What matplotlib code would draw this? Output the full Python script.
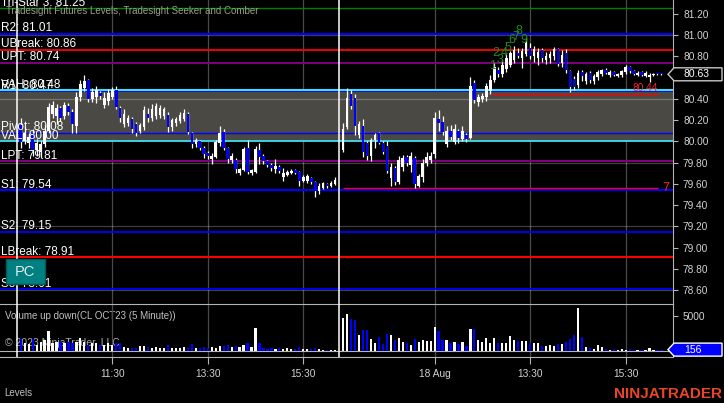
# NinjaTrader style CL 5 minute chart with Tradesight levels and volume panel
import numpy as np
import matplotlib.pyplot as plt
from matplotlib.patches import Polygon, Rectangle

plt.rcParams['font.family'] = ['Liberation Sans', 'DejaVu Sans']

W, H = 724, 403  # output size in pixels

# ---- data -------------------------------------------------------------
# bar slots: first session 1..80, session break at 81, second session 82..162
bar_slot = list(range(1, 81)) + list(range(82, 163))

opens = [
    80.15, 80.00, 79.98, 80.08, 79.92, 79.90, 79.97, 80.10, 80.26, 80.24,
    80.31, 80.24, 80.33, 80.28, 80.14, 80.42, 80.50, 80.58, 80.40, 80.42,
    80.45, 80.34, 80.38, 80.42, 80.48, 80.31, 80.16, 80.17, 80.21, 80.16,
    80.10, 80.13, 80.26, 80.22, 80.24, 80.25, 80.24, 80.25, 80.13, 80.17,
    80.19, 80.21, 80.26, 80.08, 79.97, 80.00, 79.94, 79.89, 79.83, 79.85,
    79.98, 80.09, 79.94, 79.82, 79.82, 79.70, 79.73, 79.94, 79.70, 79.71,
    79.92, 79.86, 79.81, 79.78, 79.74, 79.76, 79.66, 79.68, 79.70, 79.73,
    79.71, 79.63, 79.63, 79.65, 79.62, 79.53, 79.56, 79.60, 79.58, 79.60,
    79.92, 80.13, 80.44, 80.41, 80.06, 80.14, 79.98, 79.86, 80.01, 80.08,
    79.98, 79.96, 79.65, 79.75, 79.62, 79.76, 79.85, 79.78, 79.84, 79.58,
    79.66, 79.80, 79.82, 79.88, 80.21, 80.18, 79.97, 80.10, 79.99, 80.10,
    80.02, 80.06, 80.03, 80.55, 80.37, 80.40, 80.42, 80.47, 80.58, 80.67,
    80.63, 80.68, 80.72, 80.76, 80.83, 80.78, 80.82, 80.88, 80.80, 80.78,
    80.86, 80.76, 80.78, 80.80, 80.87, 80.74, 80.83, 80.66, 80.59, 80.53,
    80.65, 80.57, 80.64, 80.57, 80.60, 80.63, 80.67, 80.62, 80.65, 80.61,
    80.62, 80.65, 80.70, 80.66, 80.62, 80.65, 80.61, 80.60, 80.62, 80.64,
    80.64,
]
highs = [
    80.22, 80.14, 80.08, 80.12, 80.02, 80.00, 80.15, 80.36, 80.38, 80.35,
    80.33, 80.37, 80.36, 80.30, 80.46, 80.58, 80.62, 80.59, 80.50, 80.52,
    80.47, 80.46, 80.49, 80.51, 80.52, 80.33, 80.30, 80.25, 80.23, 80.18,
    80.17, 80.33, 80.31, 80.35, 80.36, 80.34, 80.32, 80.28, 80.22, 80.23,
    80.28, 80.30, 80.28, 80.09, 80.03, 80.01, 79.96, 79.91, 79.89, 80.01,
    80.14, 80.12, 79.95, 79.89, 79.84, 79.75, 79.95, 80.01, 79.74, 79.96,
    79.98, 79.88, 79.82, 79.80, 79.83, 79.78, 79.75, 79.73, 79.74, 79.74,
    79.72, 79.68, 79.69, 79.66, 79.63, 79.61, 79.62, 79.61, 79.63, 79.66,
    80.17, 80.50, 80.48, 80.44, 80.19, 80.21, 80.00, 80.03, 80.08, 80.09,
    80.00, 80.00, 79.80, 79.77, 79.86, 79.87, 79.87, 79.90, 79.86, 79.69,
    79.83, 79.90, 79.90, 80.28, 80.29, 80.24, 80.14, 80.15, 80.16, 80.12,
    80.14, 80.08, 80.60, 80.58, 80.44, 80.45, 80.55, 80.62, 80.74, 80.70,
    80.76, 80.82, 80.85, 80.90, 80.88, 80.88, 80.97, 80.92, 80.90, 80.88,
    80.88, 80.84, 80.85, 80.89, 80.88, 80.86, 80.87, 80.67, 80.61, 80.67,
    80.67, 80.65, 80.66, 80.63, 80.67, 80.68, 80.69, 80.67, 80.66, 80.64,
    80.67, 80.72, 80.71, 80.67, 80.66, 80.66, 80.66, 80.64, 80.64, 80.64,
    80.64,
]
lows = [
    79.94, 79.97, 79.94, 79.86, 79.86, 79.84, 79.95, 80.08, 80.22, 80.16,
    80.19, 80.21, 80.25, 80.08, 80.08, 80.38, 80.47, 80.37, 80.37, 80.36,
    80.40, 80.31, 80.34, 80.40, 80.30, 80.18, 80.13, 80.14, 80.08, 80.05,
    80.08, 80.11, 80.18, 80.19, 80.21, 80.22, 80.21, 80.09, 80.10, 80.14,
    80.17, 80.19, 80.07, 79.94, 79.95, 79.92, 79.84, 79.83, 79.79, 79.84,
    79.96, 79.92, 79.80, 79.80, 79.70, 79.68, 79.72, 79.69, 79.68, 79.70,
    79.79, 79.79, 79.76, 79.72, 79.70, 79.70, 79.63, 79.67, 79.69, 79.69,
    79.58, 79.62, 79.61, 79.60, 79.48, 79.50, 79.55, 79.56, 79.57, 79.59,
    79.90, 80.12, 80.30, 80.06, 80.03, 79.85, 79.82, 79.81, 79.94, 79.97,
    79.88, 79.70, 79.58, 79.59, 79.60, 79.72, 79.77, 79.71, 79.56, 79.57,
    79.62, 79.77, 79.80, 79.84, 80.10, 80.06, 79.95, 80.01, 79.97, 79.98,
    80.00, 79.99, 80.02, 80.36, 80.33, 80.37, 80.38, 80.44, 80.56, 80.60,
    80.60, 80.65, 80.70, 80.74, 80.78, 80.69, 80.80, 80.77, 80.75, 80.72,
    80.75, 80.73, 80.74, 80.76, 80.71, 80.70, 80.64, 80.46, 80.48, 80.50,
    80.57, 80.54, 80.55, 80.54, 80.58, 80.61, 80.63, 80.60, 80.61, 80.60,
    80.60, 80.63, 80.64, 80.62, 80.61, 80.61, 80.60, 80.56, 80.61, 80.62,
    80.62,
]
closes = [
    79.99, 80.08, 80.04, 79.92, 79.98, 79.97, 80.10, 80.32, 80.34, 80.31,
    80.22, 80.34, 80.28, 80.16, 80.42, 80.54, 80.57, 80.40, 80.46, 80.48,
    80.43, 80.41, 80.45, 80.48, 80.32, 80.22, 80.26, 80.22, 80.12, 80.08,
    80.15, 80.29, 80.22, 80.30, 80.33, 80.31, 80.30, 80.13, 80.20, 80.21,
    80.25, 80.27, 80.09, 79.97, 80.01, 79.94, 79.88, 79.86, 79.86, 79.99,
    80.08, 79.94, 79.83, 79.86, 79.74, 79.74, 79.93, 79.71, 79.73, 79.93,
    79.85, 79.81, 79.78, 79.75, 79.77, 79.72, 79.70, 79.71, 79.72, 79.70,
    79.63, 79.66, 79.67, 79.62, 79.53, 79.58, 79.61, 79.58, 79.61, 79.64,
    80.12, 80.41, 80.33, 80.14, 80.16, 79.90, 79.86, 80.01, 80.06, 79.98,
    79.90, 79.72, 79.76, 79.62, 79.82, 79.84, 79.80, 79.86, 79.60, 79.67,
    79.80, 79.85, 79.86, 80.22, 80.17, 80.09, 80.10, 80.04, 80.12, 80.03,
    80.10, 80.02, 80.52, 80.39, 80.42, 80.43, 80.52, 80.58, 80.70, 80.63,
    80.72, 80.78, 80.83, 80.86, 80.80, 80.85, 80.92, 80.80, 80.87, 80.84,
    80.78, 80.80, 80.82, 80.87, 80.73, 80.81, 80.67, 80.51, 80.51, 80.64,
    80.61, 80.63, 80.58, 80.61, 80.65, 80.67, 80.64, 80.65, 80.62, 80.63,
    80.66, 80.70, 80.66, 80.63, 80.64, 80.62, 80.64, 80.62, 80.63, 80.63,
    80.63,
]
volumes = [
    1620, 1050, 950, 1620, 810, 1290, 1520, 2810, 1050, 1290,
    1290, 1050, 1290, 1050, 1290, 1760, 1290, 810, 1050, 1050,
    760, 810, 1050, 810, 1050, 1140, 570, 430, 330, 330,
    670, 670, 480, 430, 480, 330, 430, 810, 330, 430,
    330, 570, 330, 950, 330, 330, 570, 330, 570, 330,
    670, 670, 810, 570, 670, 570, 810, 1050, 570, 3240,
    1050, 330, 190, 330, 190, 330, 190, 330, 190, 240,
    480, 190, 190, 190, 330, 190, 140, 140, 140, 140,
    4620, 5240, 4475, 4380, 2240, 2950, 2950, 1620, 1140, 1900,
    950, 2380, 2240, 1520, 1760, 1240, 1050, 860, 1620, 1240,
    1520, 1380, 1330, 3380, 2760, 1520, 1480, 1050, 1240, 1000,
    1240, 670, 3090, 3050, 1520, 1290, 1810, 1050, 1810, 1140,
    1140, 1140, 2090, 1520, 1430, 1380, 1330, 1140, 1140, 1140,
    670, 710, 810, 710, 1000, 1000, 1240, 1620, 2240, 6140,
    2000, 520, 330, 240, 860, 480, 190, 100, 190, 140,
    190, 100, 190, 140, 100, 140, 100, 380, 100, 100,
    156,
]

level_names = ['Tri-Star 3', 'R2', 'UBreak', 'UPT', 'R1', 'VAH', 'Pivot',
               'VAL', 'LPT', 'S1', 'S2', 'LBreak', 'S3']
level_values = [81.25, 81.01, 80.86, 80.74, 80.47, 80.48, 80.08,
                80.00, 79.81, 79.54, 79.15, 78.91, 78.61]
level_colors = ['#008000', '#0000ff', '#ff0000', '#800080', '#0000ff', '#40e0f0',
                '#0000ff', '#40e0f0', '#800080', '#0000ff', '#0000ff', '#ff0000', '#0000ff']
level_widths = [1.0, 1.5, 1.3, 1.4, 1.3, 1.5, 1.0, 1.3, 1.5, 1.5, 1.3, 1.5, 1.3]

value_area = (80.00, 80.48)
session_breaks = [0, 81]
grid_prices = [78.6, 79.2, 79.8, 80.4, 81.0]

tick_slots = [24, 48, 72, 105, 129, 153]
tick_labels = ['11:30', '13:30', '15:30', '18 Aug', '13:30', '15:30']

# Comber / Seeker markers
comber_level, comber_start, comber_label = 79.56, 82, '7'
seeker_level, seeker_start = 80.44, 119.3
ray_end = 161.1
seeker_counts = ['1', '2', '3', '4', '5', '6', '7', '8', '9']
seeker_slots = [119.6, 120.5, 121.4, 122.4, 123.4, 124.4, 125.4, 126.3, 127.5]
seeker_prices = [80.71, 80.83, 80.76, 80.83, 80.88, 80.95, 80.98, 81.04, 80.95]

# ---- figure -----------------------------------------------------------
fig = plt.figure(figsize=(W / 100, H / 100), dpi=100, facecolor='black')


def fx(x):
    return x / W


def fy(y):
    return 1 - y / H


PRICE_BOTTOM, VOL_BOTTOM, RIGHT = 304, 356.7, 673
ax = fig.add_axes([0, fy(PRICE_BOTTOM), fx(RIGHT), PRICE_BOTTOM / H])
axv = fig.add_axes([0, fy(VOL_BOTTOM), fx(RIGHT), (VOL_BOTTOM - PRICE_BOTTOM) / H])

GRAY = '#b4b4b4'
TXT = '#d2d2d2'
for a in (ax, axv):
    a.set_facecolor('black')
    a.set_xlim(-4.2, 164.9)
    a.set_xticks(tick_slots)
    a.grid(axis='x', color='#4a4a4a', lw=0.9, zorder=0)
    a.yaxis.tick_right()
    a.tick_params(axis='y', length=3.6, width=0.8, color=GRAY, labelcolor=TXT,
                  labelsize=7.3, pad=3.6)
    for side in ('left', 'top', 'bottom'):
        a.spines[side].set_visible(False)
    a.spines['right'].set_color(GRAY)
    for s in session_breaks:
        a.axvline(s, color='white', lw=1.1, zorder=7)

ax.set_ylim(78.469, 81.329)
ax.set_yticks(np.arange(78.6, 81.21, 0.2))
ax.set_yticklabels([f'{v:.2f}' for v in np.arange(78.6, 81.21, 0.2)])
ax.tick_params(axis='x', length=0, labelbottom=False)

axv.set_ylim(-857, 6671)
axv.set_yticks([5000])
axv.set_yticklabels(['5000'])
axv.set_xticklabels(tick_labels)
axv.tick_params(axis='x', length=4.8, width=0.8, color=GRAY, labelcolor=TXT,
                labelsize=7.3, pad=4)
axv.spines['top'].set_visible(True)
axv.spines['top'].set_color(GRAY)
axv.spines['bottom'].set_visible(True)
axv.spines['bottom'].set_color(GRAY)
axv.axhline(0, color=GRAY, lw=0.8, zorder=2)

# value area and grid
ax.axhspan(*value_area, color='#4a4944', lw=0, zorder=1)
for g in grid_prices:
    ax.axhline(g, color='white', alpha=0.25, lw=0.9, zorder=2)

# level lines and labels
for name, val, colr, lw in zip(level_names, level_values, level_colors, level_widths):
    ax.axhline(val, color=colr, lw=lw, zorder=3)
    ax.annotate(f'{name}: {val:.2f}', xy=(0, val), xycoords=('axes fraction', 'data'),
                xytext=(1, 2.5), textcoords='offset pixels', color='white',
                fontsize=8.5, va='baseline', ha='left', zorder=8)

# candles
x = np.array(bar_slot)
o, hi, lo, c = (np.array(v) for v in (opens, highs, lows, closes))
colors = np.where(c >= o, 'white', '#0000ff')
ax.vlines(x, lo, hi, color='white', lw=0.9, zorder=5)
ax.bar(x, np.maximum(np.abs(c - o), 0.008), bottom=np.minimum(o, c), width=0.65,
       color=colors, lw=0, zorder=6)

# comber / seeker rays
ax.hlines(comber_level, comber_start, ray_end, color='#ff0000', lw=1.0, zorder=4)
ax.text(ray_end + 1.2, comber_level, comber_label, color='#ff2020', fontsize=9,
        va='center', ha='left', zorder=8)
ax.hlines(seeker_level, seeker_start, ray_end, color='#ff0000', lw=1.0, zorder=4)
ax.annotate(f'{seeker_level:.2f}', xy=(ray_end, seeker_level), xytext=(0, 1.5),
            textcoords='offset pixels', color='#ff2020', fontsize=7.3, ha='right',
            va='bottom', zorder=8)
for lab, sx, sy in zip(seeker_counts, seeker_slots, seeker_prices):
    ax.text(sx, sy, lab, color='#1c8c1c', fontsize=9, ha='center', va='center', zorder=8)

# volume
axv.bar(x, volumes, width=0.55, color=colors, lw=0, zorder=3)
axv.text(5 / RIGHT, 0.772, 'Volume up down(CL OCT23 (5 Minute))', transform=axv.transAxes,
         color='#c0c0c0', fontsize=7, va='center', zorder=1)
axv.text(5 / RIGHT, 0.26, '\u00a9 2023 NinjaTrader, LLC', transform=axv.transAxes,
         color='#a8a8a8', fontsize=7.5, va='center', zorder=1)

# header
fig.text(fx(6), fy(11), 'Tradesight Futures Levels, Tradesight Seeker and Comber',
         color='#98a088', fontsize=7, va='center')


# price / volume markers on the right axis
def marker(axis, value, label, face, edge):
    yd = H - axis.transData.transform((0, value))[1]
    pts = [(668, yd), (674, yd - 6.5), (722, yd - 6.5), (722, yd + 6.5), (674, yd + 6.5)]
    fig.add_artist(Polygon([(fx(px), fy(py)) for px, py in pts], closed=True,
                           transform=fig.transFigure, facecolor=face, edgecolor=edge,
                           lw=1.0, zorder=5))
    fig.text(fx(684), fy(yd), label, color='white', fontsize=7.5, va='center', zorder=6)


marker(ax, closes[-1], f'{closes[-1]:.2f}', 'black', '#c8c8c8')
marker(axv, volumes[-1], f'{volumes[-1]}', '#0000ff', 'white')

# PC button
fig.add_artist(Rectangle((fx(5.7), fy(284)), (45 - 5.7) / W, 25 / H, transform=fig.transFigure,
                         facecolor='#008080', edgecolor='#005c5c', lw=1.0, zorder=5))
fig.text(fx(25.3), fy(271.5), 'PC', color='#e8e8e8', fontsize=10.5, ha='center',
         va='center', zorder=6)

fig.text(fx(4), fy(393.5), 'Levels', color='#c0c0c0', fontsize=7, va='center')
fig.text(fx(722), fy(393.5), 'NINJATRADER', color='#e8452b', fontsize=11,
         fontweight='bold', ha='right', va='center')

fig.savefig('out.png', dpi=100, facecolor='black')
